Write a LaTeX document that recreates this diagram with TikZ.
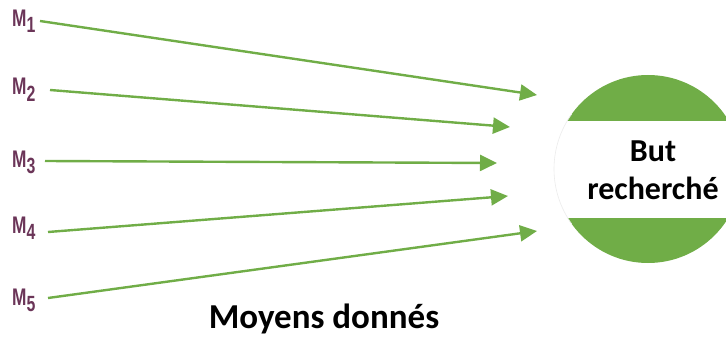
\documentclass[tikz,border=0pt]{standalone}
\usepackage{fontspec}
\setmainfont{Carlito}
\newfontfamily\lblfont{Liberation Sans}
\usetikzlibrary{arrows.meta}
\definecolor{ogreen}{HTML}{70AD47}
\definecolor{lblpurple}{HTML}{6B3558}
\begin{document}
\begin{tikzpicture}[x=1pt,y=-1pt,
  arr/.style={draw=ogreen,line width=2.4pt,-{Triangle[length=17pt,width=16pt]}},
  mlabel/.style={anchor=base west,inner sep=0pt,text=lblpurple,font=\lblfont\bfseries\fontsize{24}{24}\selectfont},
  bigtext/.style={font=\bfseries\fontsize{32}{38}\selectfont,inner sep=0pt,align=center}]
\useasboundingbox (0,0) rectangle (726,337);
% goal circle
\begin{scope}
\clip (0,0) rectangle (726,337);
\fill[ogreen] (648,169) circle (94);
\fill[white] (553,121) rectangle (730,218);
\draw[gray!15,line width=0.6pt] (648,169) ++(180-36:94) arc (180-36:180+36:94);
\end{scope}
\node[bigtext,anchor=base] (but) at (653,161) {But};
\node[bigtext,anchor=base] (rech) at (653,199) {recherché};
\node[font=\bfseries\fontsize{35}{40}\selectfont,inner sep=0pt,anchor=base] (moy) at (324,328) {Moyens donnés};
% labels
\node[mlabel] (m1) at (12,27) {\scalebox{0.72}[1]{M\raisebox{-6pt}{\fontsize{22}{22}\selectfont 1}}};
\node[mlabel] (m2) at (12,95) {\scalebox{0.72}[1]{M\raisebox{-6pt}{\fontsize{22}{22}\selectfont 2}}};
\node[mlabel] (m3) at (12,167) {\scalebox{0.72}[1]{M\raisebox{-6pt}{\fontsize{22}{22}\selectfont 3}}};
\node[mlabel] (m4) at (12,233) {\scalebox{0.72}[1]{M\raisebox{-6pt}{\fontsize{22}{22}\selectfont 4}}};
\node[mlabel] (m5) at (12,305) {\scalebox{0.72}[1]{M\raisebox{-6pt}{\fontsize{22}{22}\selectfont 5}}};
% arrow ends
\coordinate (s1) at (40,21);
\coordinate (s2) at (50,90);
\coordinate (s3) at (45,161);
\coordinate (s4) at (48,232);
\coordinate (s5) at (48,298);
\coordinate (t1) at (537,95);
\coordinate (t2) at (510,127);
\coordinate (t3) at (497,163);
\coordinate (t4) at (508,196);
\coordinate (t5) at (537,231);
\draw[arr] (s1) -- (t1);
\draw[arr] (s2) -- (t2);
\draw[arr] (s3) -- (t3);
\draw[arr] (s4) -- (t4);
\draw[arr] (s5) -- (t5);
\end{tikzpicture}
\end{document}
